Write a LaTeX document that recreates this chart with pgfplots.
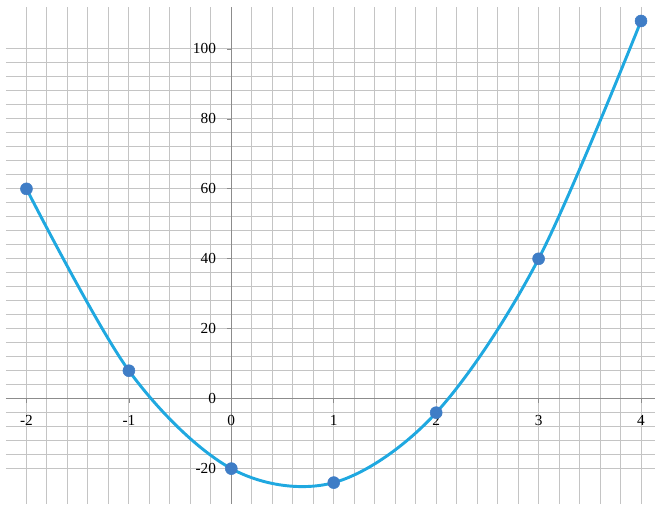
\documentclass[border=0pt]{standalone}
\usepackage{fontspec}
\setmainfont{Liberation Serif}
\usepackage{pgfplots}
\pgfplotsset{compat=1.18}
\definecolor{curveblue}{HTML}{1FA8E0}
\definecolor{markblue}{HTML}{3F7DC6}
\definecolor{gridgray}{HTML}{C4C4C4}
\definecolor{axisgray}{HTML}{8C8C8C}
\begin{document}
\begin{tikzpicture}[x=1pt,y=1pt]
\begin{axis}[name=ax, scale only axis, width=487.5pt, height=372.75pt,
  xmin=-2.2, xmax=4.141, ymin=-30, ymax=112,
  axis lines=middle, axis line style={axisgray, line width=0.8pt, -},
  xtick={-2,...,4}, ytick={-20,0,...,100},
  minor x tick num=4, minor y tick num=4,
  grid=both, grid style={gridgray, line width=0.75pt},
  major grid style={gridgray, line width=0.75pt},
  minor tick length=0pt, major tick length=3pt, tick align=outside,
  tick style={axisgray, line width=0.6pt},
  hide obscured x ticks=false, hide obscured y ticks=false,
  /pgf/number format/assume math mode=true,
  ticklabel style={font=\fontsize{11.5}{13}\selectfont, text=black},
  xticklabel style={yshift=-6pt},
  yticklabel style={xshift=-5pt},
  clip=false]
\addplot[curveblue, line width=2.2pt, smooth, tension=0.55] coordinates {
  (-2,60)(-1,8)(0,-20)(1,-24)(2,-4)(3,40)(4,108)};
\addplot[only marks, mark=*, mark size=4.5pt, markblue] coordinates {
  (-2,60)(-1,8)(0,-20)(1,-24)(2,-4)(3,40)(4,108)};
\end{axis}
\path (ax.south west) ++(-4.5pt,0) coordinate (bl);
\path (ax.north east) ++(0,5.25pt) coordinate (tr);
\useasboundingbox (bl) rectangle (tr);
\end{tikzpicture}
\end{document}
